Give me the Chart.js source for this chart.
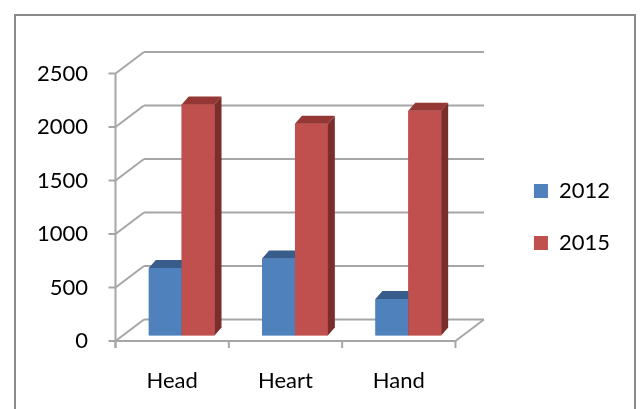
<!DOCTYPE html>
<html>
<head>
<meta charset="utf-8">
<script src="https://cdn.jsdelivr.net/npm/chart.js@4.4.1/dist/chart.umd.min.js"></script>
<style>
  html, body { margin: 0; padding: 0; background: #fff; }
  #wrap { position: relative; width: 640px; height: 409px; overflow: hidden; }
  #frame {
    position: absolute; left: 14px; top: 14px; width: 618px; height: 400px;
    border: 2px solid #8a8a8a; pointer-events: none;
  }
  canvas { position: absolute; left: 0; top: 0; }
</style>
</head>
<body>
<div id="wrap">
  <canvas id="chart" width="640" height="409"></canvas>
  <div id="frame"></div>
</div>
<script>
// chart data
const categories = ['Head', 'Heart', 'Hand'];
const seriesNames = ['2012', '2015'];
const values2012 = [630, 720, 340];
const values2015 = [2160, 1980, 2100];
const yTicks = [0, 500, 1000, 1500, 2000, 2500];

// colours (front, top, side) per series
const faceColors = [
  { front: '#4f81bd', top: '#385d8a', side: '#2f5079' },
  { front: '#c0504d', top: '#953735', side: '#7b2d2b' }
];
const gridColor = '#a6a6a6';

// offsets of the front and back planes relative to the bar plane
const FRONT = { dx: -9.5, dy: 5.5 };
const BACK = { dx: 19, dy: -16 };
const BAR_DEPTH = { dx: 7, dy: -8 };

const walls3d = {
  id: 'walls3d',
  beforeDatasetsDraw(chart) {
    const { ctx, chartArea: a, scales: { y } } = chart;
    const line = (x1, y1, x2, y2) => {
      ctx.beginPath();
      ctx.moveTo(x1, y1);
      ctx.lineTo(x2, y2);
      ctx.stroke();
    };
    ctx.save();
    ctx.lineWidth = 2;
    ctx.strokeStyle = gridColor;

    // back wall gridlines + side wall diagonals + front tick marks
    yTicks.forEach(v => {
      const py = y.getPixelForValue(v);
      line(a.left + FRONT.dx, py + FRONT.dy, a.left + BACK.dx, py + BACK.dy);
      line(a.left + BACK.dx, py + BACK.dy, a.right + BACK.dx, py + BACK.dy);
      line(a.left + FRONT.dx - 7, py + FRONT.dy, a.left + FRONT.dx, py + FRONT.dy);
    });

    const y0 = y.getPixelForValue(0);
    const yTop = y.getPixelForValue(yTicks[yTicks.length - 1]);
    // floor front edge and right edge
    line(a.left + FRONT.dx, y0 + FRONT.dy, a.right + FRONT.dx, y0 + FRONT.dy);
    line(a.right + FRONT.dx, y0 + FRONT.dy, a.right + BACK.dx, y0 + BACK.dy);
    // front vertical axis
    line(a.left + FRONT.dx, yTop + FRONT.dy, a.left + FRONT.dx, y0 + FRONT.dy + 7);

    // category boundary ticks
    const catW = a.width / categories.length;
    for (let k = 0; k <= categories.length; k++) {
      const bx = a.left + k * catW + FRONT.dx;
      line(bx, y0 + FRONT.dy, bx, y0 + FRONT.dy + 7);
    }
    ctx.restore();
  },
  afterDatasetsDraw(chart) {
    const { ctx } = chart;
    ctx.save();
    // draw category by category so the red front covers the blue side
    categories.forEach((c, i) => {
      chart.data.datasets.forEach((ds, d) => {
        const bar = chart.getDatasetMeta(d).data[i];
        const { x, y, width, base } = bar.getProps(['x', 'y', 'width', 'base'], true);
        const l = x - width / 2, r = x + width / 2;
        const col = faceColors[d];
        ctx.fillStyle = col.front;
        ctx.fillRect(l, y, width, base - y);
        ctx.fillStyle = col.top;
        ctx.beginPath();
        ctx.moveTo(l, y);
        ctx.lineTo(l + BAR_DEPTH.dx, y + BAR_DEPTH.dy);
        ctx.lineTo(r + BAR_DEPTH.dx, y + BAR_DEPTH.dy);
        ctx.lineTo(r, y);
        ctx.closePath();
        ctx.fill();
        ctx.fillStyle = col.side;
        ctx.beginPath();
        ctx.moveTo(r, y);
        ctx.lineTo(r + BAR_DEPTH.dx, y + BAR_DEPTH.dy);
        ctx.lineTo(r + BAR_DEPTH.dx, base + BAR_DEPTH.dy);
        ctx.lineTo(r, base);
        ctx.closePath();
        ctx.fill();
      });
    });
    ctx.restore();
  }
};

function drawChart() {
  Chart.defaults.font.family = 'Lato';
  Chart.defaults.color = '#000';

  const ctx = document.getElementById('chart').getContext('2d');
  new Chart(ctx, {
    type: 'bar',
    data: {
      labels: categories,
      datasets: [
        { label: seriesNames[0], data: values2012, backgroundColor: faceColors[0].front },
        { label: seriesNames[1], data: values2015, backgroundColor: faceColors[1].front }
      ]
    },
    options: {
      responsive: false,
      animation: false,
      layout: { padding: { top: 32.5, left: 0, right: 20, bottom: 7.5 } },
      datasets: { bar: { categoryPercentage: 0.58, barPercentage: 1.0 } },
      plugins: {
        tooltip: { enabled: false },
        legend: {
          position: 'right',
          align: 'center',
          labels: {
            font: { size: 22 },
            color: '#000',
            boxWidth: 14,
            boxHeight: 14,
            padding: 30
          }
        }
      },
      scales: {
        x: {
          grid: { display: false, drawTicks: false },
          border: { display: false },
          ticks: { font: { size: 22 }, padding: 32, labelOffset: -9.5 },
          afterFit(s) { s.height = 66; }
        },
        y: {
          min: 0,
          max: 2500,
          grid: { display: false, drawTicks: false },
          border: { display: false },
          ticks: {
            font: { size: 22 }, stepSize: 500, padding: 37, labelOffset: 5.5,
            callback: v => String(v)
          },
          afterFit(s) { s.width = 125; }
        },
        // hidden axes that only reserve space
        gap: {
          type: 'linear',
          position: 'right',
          display: false,
          afterFit(s) { s.width = 39; }
        },
        topGap: {
          type: 'linear',
          position: 'top',
          display: false,
          afterFit(s) { s.height = 35.5; }
        }
      }
    },
    plugins: [walls3d]
  });
}

if (document.fonts && document.fonts.load) {
  document.fonts.load('22px Lato').then(drawChart, drawChart);
} else {
  drawChart();
}
</script>
</body>
</html>
